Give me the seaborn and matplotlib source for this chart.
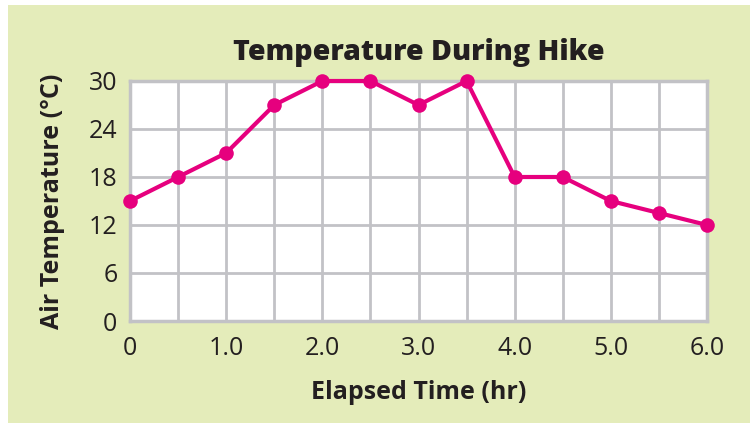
import matplotlib
matplotlib.use("Agg")
import matplotlib.pyplot as plt
import matplotlib.patches as mpatches
import seaborn as sns
import pandas as pd

# data
hours = [0, 0.5, 1.0, 1.5, 2.0, 2.5, 3.0, 3.5, 4.0, 4.5, 5.0, 5.5, 6.0]
temps = [15, 18, 21, 27, 30, 30, 27, 30, 18, 18, 15, 13.5, 12]
x_ticks = [0, 1.0, 2.0, 3.0, 4.0, 5.0, 6.0]
x_labels = ["0", "1.0", "2.0", "3.0", "4.0", "5.0", "6.0"]
y_ticks = [0, 6, 12, 18, 24, 30]

df = pd.DataFrame({"hours": hours, "temp": temps})

sns.set_theme(style="whitegrid")
plt.rcParams["font.family"] = ["Open Sans", "DejaVu Sans"]

panel = "#E4ECBA"
grid = "#C2C2C6"
pink = "#E6007E"
ink = "#231F20"

fig = plt.figure(figsize=(7.5, 4.23), dpi=100, facecolor="white")
# green backdrop panel, small white margin top/left
fig.patches.append(mpatches.Rectangle((8 / 750, 0), 1, 1 - 5 / 423,
                                      transform=fig.transFigure,
                                      facecolor=panel, edgecolor="none", zorder=-10))

ax = fig.add_axes([130 / 750, 1 - 321 / 423, 577 / 750, 240 / 423])
ax.set_facecolor("white")

sns.lineplot(data=df, x="hours", y="temp", ax=ax, color=pink, linewidth=3,
             marker="o", markersize=10.5, markeredgewidth=0, clip_on=False, zorder=5)

ax.set_xlim(0, 6)
ax.set_ylim(0, 30)
ax.set_xticks(x_ticks)
ax.set_xticks([0.5, 1.5, 2.5, 3.5, 4.5, 5.5], minor=True)
ax.set_xticklabels(x_labels)
ax.set_yticks(y_ticks)
ax.grid(True, which="both", color=grid, linewidth=2)
ax.tick_params(axis="both", which="both", length=0, labelsize=18, colors=ink)
ax.tick_params(axis="x", pad=11)
ax.tick_params(axis="y", pad=9)
for s in ax.spines.values():
    s.set_visible(True)
    s.set_color(grid)
    s.set_linewidth(2.5)

ax.set_title("Temperature During Hike", fontsize=20.5, fontweight="heavy",
             color=ink, pad=15)
ax.set_xlabel("Elapsed Time (hr)", fontsize=18, fontweight="bold", color=ink)
ax.set_ylabel("Air Temperature (°C)", fontsize=18, fontweight="bold", color=ink)
ax.xaxis.set_label_coords(0.5, -0.245)
ax.yaxis.set_label_coords(-0.112, 0.5)

fig.savefig("out.png", dpi=100, facecolor=fig.get_facecolor())
